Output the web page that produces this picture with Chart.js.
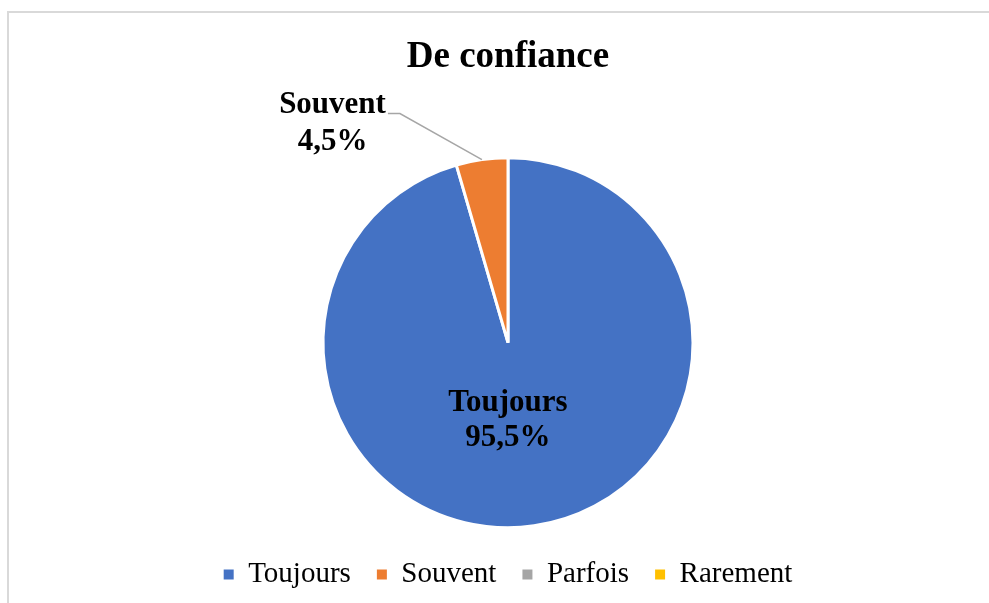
<!DOCTYPE html>
<html>
<head>
<meta charset="utf-8">
<script src="https://cdn.jsdelivr.net/npm/chart.js@4/dist/chart.umd.min.js"></script>
<style>
  html, body { margin: 0; padding: 0; background: #fff; overflow: hidden; }
  #wrap { position: relative; width: 989px; height: 603px; }
  #frame { position: absolute; left: 7px; top: 11px; width: 1000px; height: 620px;
           border: 2px solid #d9d9d9; box-sizing: border-box; }
  canvas { position: absolute; left: 0; top: 0; }
</style>
</head>
<body>
<div id="wrap">
  <div id="frame"></div>
  <canvas id="c" width="989" height="603"></canvas>
</div>
<script>
const chartTitle = "De confiance";
const categories = ["Toujours", "Souvent", "Parfois", "Rarement"];
const values = [95.5, 4.5, 0, 0];
const colors = ["#4472C4", "#ED7D31", "#A5A5A5", "#FFC000"];

const SERIF = '"Liberation Serif", "Times New Roman", serif';

function fmtPct(v, total) {
  return (v / total * 100).toFixed(1).replace('.', ',') + '%';
}

const labelPlugin = {
  id: 'sliceLabels',
  afterDatasetsDraw(chart) {
    const ctx = chart.ctx;
    const meta = chart.getDatasetMeta(0);
    const data = chart.data.datasets[0].data;
    const total = data.reduce((a, b) => a + b, 0);
    ctx.save();
    ctx.font = 'bold 31px ' + SERIF;
    ctx.fillStyle = '#000';
    ctx.textBaseline = 'middle';
    meta.data.forEach((arc, i) => {
      const v = data[i];
      if (!v) return;
      const p = arc.getProps(['x', 'y', 'startAngle', 'endAngle', 'outerRadius'], true);
      const mid = (p.startAngle + p.endAngle) / 2;
      const name = chart.data.labels[i];
      const pct = fmtPct(v, total);
      if (v / total > 0.1) {
        const r = p.outerRadius * 0.42;
        const cx = p.x + Math.cos(mid) * r - 11;
        const cy = p.y + Math.sin(mid) * r;
        ctx.textAlign = 'center';
        ctx.fillText(name, cx, cy - 17);
        ctx.fillText(pct, cx, cy + 18);
      } else {
        const ox = p.x + Math.cos(mid) * p.outerRadius;
        const oy = p.y + Math.sin(mid) * p.outerRadius;
        const ex = ox - 82, ey = oy - 46;
        const hx = ex - 12;
        ctx.strokeStyle = '#A6A6A6';
        ctx.lineWidth = 1.5;
        ctx.beginPath();
        ctx.moveTo(ox, oy);
        ctx.lineTo(ex, ey);
        ctx.lineTo(hx, ey);
        ctx.stroke();
        const w = ctx.measureText(name).width;
        const tx = hx - 2 - w / 2;
        ctx.textAlign = 'center';
        ctx.fillText(name, tx, ey - 9);
        ctx.fillText(pct, tx, ey + 28);
      }
    });
    ctx.restore();
  }
};

new Chart(document.getElementById('c'), {
  type: 'pie',
  data: {
    labels: categories,
    datasets: [{
      data: values,
      backgroundColor: colors,
      borderColor: '#ffffff',
      borderWidth: 3
    }]
  },
  options: {
    responsive: false,
    animation: false,
    radius: 185,
    layout: { padding: { left: 27, right: 0, top: 0, bottom: 4 } },
    plugins: {
      tooltip: { enabled: false },
      title: {
        display: true,
        text: chartTitle,
        color: '#000',
        font: { family: SERIF, size: 37, weight: 'bold' },
        padding: { top: 35, bottom: 72 }
      },
      legend: {
        position: 'bottom',
        labels: {
          color: '#000',
          font: { family: SERIF, size: 29 },
          boxWidth: 10,
          boxHeight: 10,
          padding: 26,
          generateLabels(chart) {
            const items = Chart.overrides.pie.plugins.legend.labels.generateLabels(chart);
            items.forEach(it => { it.lineWidth = 0; it.strokeStyle = 'rgba(0,0,0,0)'; });
            return items;
          }
        }
      }
    }
  },
  plugins: [labelPlugin]
});
</script>
</body>
</html>
